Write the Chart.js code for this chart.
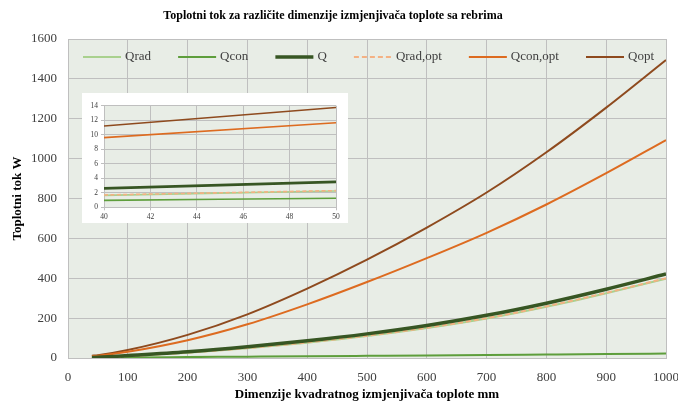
<!DOCTYPE html>
<html><head><meta charset="utf-8">
<script src="https://cdn.jsdelivr.net/npm/chart.js@4/dist/chart.umd.min.js"></script>
<style>
html,body{margin:0;padding:0;background:#fff;}
#wrap{position:relative;width:678px;height:405px;overflow:hidden;}
#main{position:absolute;left:0;top:0;}
#insetBox{position:absolute;left:82px;top:93px;width:266px;height:130px;background:#fff;}
</style></head><body>
<div id="wrap">
<canvas id="main" width="678" height="405"></canvas>
<div id="insetBox"><canvas id="inset" width="266" height="130"></canvas></div>
</div>
<script>
// ---- data ----
const xValues  = [40, 50, 100, 200, 300, 400, 500, 600, 700, 800, 900, 1000];
const qRad     = [1.65, 2.25, 9.6, 26.5, 49, 77, 110, 150, 198, 257, 325, 398];
const qCon     = [0.96, 1.24, 2.4, 4.6, 6.8, 9, 11, 13, 15.5, 17.5, 19.5, 22];
const qTotal   = [2.6, 3.5, 12, 31, 56, 86, 121, 163, 214, 275, 345, 421];
const qRadOpt  = [1.7, 2.3, 9.8, 27, 50, 78.5, 112, 152, 200, 259, 327, 400];
const qConOpt  = [9.6, 11.65, 31, 89, 169, 269, 381, 501, 628, 770, 927, 1093];
const qOpt     = [11.2, 13.76, 40, 116, 219, 348, 493, 654, 830, 1032, 1256, 1495];
const seriesNames = ['Qrad', 'Qcon', 'Q', 'Qrad,opt', 'Qcon,opt', 'Qopt'];

const xTickValues = [0, 100, 200, 300, 400, 500, 600, 700, 800, 900, 1000];
const yTickValues = [0, 200, 400, 600, 800, 1000, 1200, 1400, 1600];
const insetXTicks = [40, 42, 44, 46, 48, 50];
const insetYTicks = [0, 2, 4, 6, 8, 10, 12, 14];
const insetCount = 2; // inset shows the first points (40 .. 50)

const titleText = 'Toplotni tok za različite dimenzije izmjenjivača toplote sa rebrima';
const xTitle = 'Dimenzije kvadratnog izmjenjivača toplote mm';
const yTitle = 'Toplotni tok W';

// ---- styles ----
const FONT = "'Liberation Serif', 'Times New Roman', serif";
const styles = [
  {color: '#A9D18E', width: 2,   dash: [],     order: 5},
  {color: '#5E9E3C', width: 2,   dash: [],     order: 4},
  {color: '#375623', width: 3.5, dash: [],     order: 0},
  {color: '#F4B183', width: 2,   dash: [5, 3], order: 1},
  {color: '#DD6B20', width: 2,   dash: [],     order: 2},
  {color: '#8E4A1E', width: 2,   dash: [],     order: 3}
];
const seriesData = [qRad, qCon, qTotal, qRadOpt, qConOpt, qOpt];
const GRID = '#BFBFBF';
const PLOT_BG = '#E8EDE6';

function makeDatasets(n, scaleW) {
  return seriesNames.map((name, i) => ({
    label: name,
    data: xValues.slice(0, n).map((x, j) => ({x: x, y: seriesData[i][j]})),
    borderColor: styles[i].color,
    backgroundColor: styles[i].color,
    borderWidth: styles[i].width * scaleW,
    borderDash: styles[i].dash.map(d => d * scaleW),
    pointRadius: 0,
    fill: false,
    cubicInterpolationMode: 'monotone',
    order: styles[i].order
  }));
}

const bgPlugin = {
  id: 'plotBg',
  beforeDraw(chart) {
    const {ctx, chartArea: a} = chart;
    ctx.save();
    ctx.fillStyle = PLOT_BG;
    ctx.fillRect(a.left, a.top, a.right - a.left, a.bottom - a.top);
    ctx.restore();
  }
};

const legendPlugin = {
  id: 'innerLegend',
  afterDatasetsDraw(chart) {
    const ctx = chart.ctx;
    ctx.save();
    ctx.font = '13px ' + FONT;
    const lineLen = 38, gap = 4, startX = 83, endX = 654, y = 57;
    const widths = seriesNames.map(n => lineLen + gap + ctx.measureText(n).width);
    const total = widths.reduce((a, b) => a + b, 0);
    const space = (endX - startX - total) / (seriesNames.length - 1);
    let x = startX;
    seriesNames.forEach((n, i) => {
      const ds = chart.data.datasets[i];
      ctx.beginPath();
      ctx.strokeStyle = ds.borderColor;
      ctx.lineWidth = ds.borderWidth;
      ctx.setLineDash(ds.borderDash || []);
      ctx.moveTo(x, y);
      ctx.lineTo(x + lineLen, y);
      ctx.stroke();
      ctx.setLineDash([]);
      ctx.fillStyle = '#404040';
      ctx.textBaseline = 'middle';
      ctx.textAlign = 'left';
      ctx.fillText(n, x + lineLen + gap, y);
      x += widths[i] + space;
    });
    ctx.restore();
  }
};

const plainTick = v => String(v);

new Chart(document.getElementById('main'), {
  type: 'line',
  data: {datasets: makeDatasets(xValues.length, 1)},
  plugins: [bgPlugin, legendPlugin],
  options: {
    responsive: false,
    animation: false,
    layout: {padding: {left: 0, right: 12, top: 0, bottom: 0}},
    plugins: {
      legend: {display: false},
      tooltip: {enabled: false},
      title: {
        display: true, text: titleText, color: '#000',
        font: {family: FONT, size: 12, weight: 'bold'},
        padding: {top: 9, bottom: 15.6}
      }
    },
    scales: {
      x: {
        type: 'linear', min: 0, max: 1000,
        afterBuildTicks(s) { s.ticks = xTickValues.map(v => ({value: v})); },
        afterFit(s) { s.height = 47; s.paddingLeft = 0; s.paddingRight = 0; },
        ticks: {font: {family: FONT, size: 13}, color: '#404040', padding: 12, maxRotation: 0, autoSkip: false, callback: plainTick},
        grid: {color: GRID, drawTicks: false},
        border: {color: GRID},
        title: {display: true, text: xTitle, color: '#000', font: {family: FONT, size: 13, weight: 'bold'}, padding: {top: 0, bottom: 2.2}}
      },
      y: {
        type: 'linear', min: 0, max: 1600,
        afterBuildTicks(s) { s.ticks = yTickValues.map(v => ({value: v})); },
        afterFit(s) { s.width = 68; },
        ticks: {font: {family: FONT, size: 13}, color: '#404040', padding: 11, callback: plainTick},
        grid: {color: GRID, drawTicks: false},
        border: {color: GRID},
        title: {display: true, text: yTitle, color: '#000', font: {family: FONT, size: 13, weight: 'bold'}, padding: {top: 10, bottom: 0}}
      }
    }
  }
});

new Chart(document.getElementById('inset'), {
  type: 'line',
  data: {datasets: makeDatasets(insetCount, 0.8)},
  plugins: [bgPlugin],
  options: {
    responsive: false,
    animation: false,
    layout: {padding: {left: 0, right: 12, top: 12.7, bottom: 0}},
    plugins: {legend: {display: false}, tooltip: {enabled: false}, title: {display: false}},
    scales: {
      x: {
        type: 'linear', min: 40, max: 50,
        afterBuildTicks(s) { s.ticks = insetXTicks.map(v => ({value: v})); },
        afterFit(s) { s.height = 15.7; s.paddingLeft = 0; s.paddingRight = 0; },
        ticks: {font: {family: FONT, size: 7.5}, color: '#404040', padding: 2, maxRotation: 0, autoSkip: false, callback: plainTick},
        grid: {color: GRID, tickLength: 3},
        border: {color: GRID}
      },
      y: {
        type: 'linear', min: 0, max: 14,
        afterBuildTicks(s) { s.ticks = insetYTicks.map(v => ({value: v})); },
        afterFit(s) { s.width = 22; },
        ticks: {font: {family: FONT, size: 7.5}, color: '#404040', padding: 3, callback: plainTick},
        grid: {color: GRID, tickLength: 3},
        border: {color: GRID}
      }
    }
  }
});
</script>
</body></html>
